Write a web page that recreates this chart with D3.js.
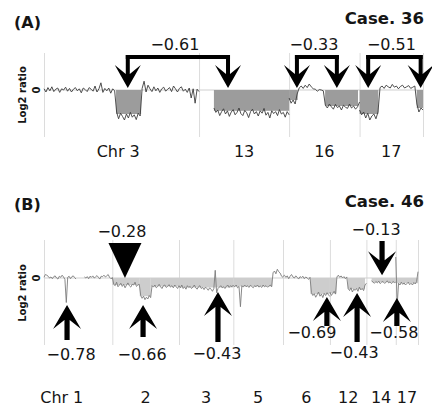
<!DOCTYPE html>
<html>
<head>
<meta charset="utf-8">
<script src="https://cdn.jsdelivr.net/npm/d3@7"></script>
<style>
  body { margin: 0; background: #fff; }
  svg { display: block; }
  text { font-family: "DejaVu Sans", Verdana, sans-serif; fill: #151515; }
</style>
</head>
<body>
<script>

//******************************************************************************
// Data ************************************************************************

    var caseLabels = ["Case. 36", "Case. 46"];

    // ---- panel A : case 36 ----
    var chromA = ["3", "13", "16", "17"];
    var chromLenA = [198, 115, 90, 81]; // Mb
    var probeSpanA = [[0, 198], [19, 115], [0, 90], [0, 81]]; // Mb covered by probes

    var log2A_chr3 = [
       0.03,-0.05, 0.06,-0.02, 0.08,-0.04, 0.02, 0.05,-0.06, 0.03,
       0.00, 0.07,-0.03, 0.04,-0.05, 0.02, 0.06,-0.02, 0.03,-0.07,
       0.05, 0.01,-0.04, 0.06, 0.02,-0.03, 0.10,-0.05, 0.03, 0.18,
      -0.06, 0.04,-0.02, 0.05,-0.08, 0.03,-0.02,
      -0.55,-0.72,-0.58,-0.66,-0.75,-0.60,-0.70,-0.56,-0.68,-0.62,-0.74,-0.58,-0.65,
       0.04, 0.22,-0.05, 0.12, 0.03,-0.04, 0.08,-0.02, 0.05,-0.06,
       0.03, 0.07,-0.03, 0.02, 0.06,-0.04, 0.10, 0.03,-0.05, 0.04,
       0.08,-0.03, 0.02,-0.06, 0.05,-0.20, 0.03,-0.33, 0.02,-0.04
    ];
    var log2A_chr13 = [
      -0.45,-0.56,-0.50,-0.64,-0.54,-0.47,-0.60,-0.52,-0.66,-0.55,
      -0.49,-0.62,-0.56,-0.45,-0.59,-0.64,-0.51,-0.57,-0.69,-0.54,
      -0.48,-0.60,-0.54,-0.65,-0.52,-0.58,-0.46,-0.63,-0.56,-0.70,
      -0.52,-0.59,-0.54,-0.64,-0.49,-0.60,-0.56,-0.68,-0.54,-0.62
    ];
    var log2A_chr16 = [
      -0.20,-0.33,-0.25,-0.35,-0.10, 0.05, 0.10, 0.04, 0.12, 0.06,
       0.15, 0.08, 0.03, 0.02,-0.03, 0.01, 0.00,-0.02,-0.38,-0.45,
      -0.35,-0.42,-0.48,-0.36,-0.44,-0.40,-0.50,-0.38,-0.43,-0.46,
      -0.35,-0.45,-0.40,-0.48,-0.42,-0.30
    ];
    var log2A_chr17 = [
      -0.50,-0.62,-0.55,-0.70,-0.58,-0.75,-0.65,-0.60,-0.72,-0.55,
       0.06, 0.10, 0.04, 0.12, 0.08, 0.05, 0.14, 0.07, 0.10, 0.03,
       0.09, 0.12, 0.05, 0.08, 0.11, 0.04, 0.07, 0.10,-0.35,-0.55,-0.45,-0.50
    ];

    // segments [chr, startMb, endMb, mean log2]
    var segA = [
      ["3", 92, 124, -0.60], ["13", 19, 115, -0.52],
      ["16", 0, 11, -0.25], ["16", 46, 88, -0.40],
      ["17", 0, 24, -0.60], ["17", 73, 81, -0.45]
    ];

    // brackets [label, chrLeft, mbLeft, chrRight, mbRight]
    var bracketA = [
      ["\u22120.61", "3", 107, "13", 37],
      ["\u22120.33", "16", 10, "16", 61],
      ["\u22120.51", "17", 11, "17", 78]
    ];

    // ---- panel B : case 46 ----
    var chromB = ["1", "2", "3", "5", "6", "12", "14", "17"];
    var chromLenB = [249, 243, 198, 181, 171, 133, 107, 81];
    var probeSpanB = [[0, 249], [0, 243], [0, 198], [0, 181], [0, 171], [0, 133], [19, 107], [0, 81]];

    var log2B_chr1 = [
       0.02, 0.10, 0.08, 0.05, 0.00, 0.03,-0.02, 0.04, 0.06, 0.00,
      -0.03, 0.05, 0.02, 0.08, 0.03,-0.04,-0.70, 0.02, 0.05,-0.02,
       0.04, 0.06, 0.01,-0.03, null, null, null, null, null, 0.03,
       0.00, 0.04,-0.02, 0.05, 0.02, 0.06, 0.00, 0.03, 0.07, 0.02,
      -0.03, 0.05, 0.04, 0.08, 0.03, 0.06, 0.10, 0.02,-0.02, 0.00
    ];
    var log2B_chr2 = [
       0.02,-0.18,-0.22,-0.12,-0.25,-0.20,-0.15,-0.24,-0.18,-0.28,
      -0.20,-0.14,-0.22,-0.26,-0.18,-0.20,-0.12,-0.24,-0.20,-0.18,
      -0.50,-0.58,-0.52,-0.62,-0.55,-0.60,-0.50,-0.56,
      -0.22,-0.26,-0.20,-0.28,-0.24,-0.18,-0.25,-0.30,-0.22,-0.20,
      -0.27,-0.24,-0.19,-0.26,-0.22,-0.28,-0.20,-0.25,-0.30,-0.22
    ];
    var log2B_chr3 = [
      -0.22,-0.28,-0.20,-0.30,-0.25,-0.32,-0.22,-0.27,-0.24,-0.30,
      -0.26,-0.20,-0.28,-0.32,-0.25,-0.22,-0.30,-0.27,-0.33,-0.26,
      -0.30,-0.35,-0.28,-0.32,-0.38,-0.30, 0.22,-0.42,-0.30,-0.26,
      -0.22,-0.28,-0.25,-0.30,-0.24,-0.20,-0.27,-0.22,-0.25,-0.20
    ];
    var log2B_chr5 = [
      -0.22,-0.25,-0.20,-0.28,-0.24,-0.82,-0.22,-0.26,-0.20,-0.25,
      -0.22,-0.27,-0.21,-0.24,-0.28,-0.22,-0.25,-0.20,-0.26,-0.23,
      -0.27,-0.20,-0.25,-0.22,-0.26,-0.24,-0.20,-0.25, 0.15, 0.20,
       0.12, 0.25, 0.18, 0.14, 0.05, 0.02
    ];
    var log2B_chr6 = [
       0.04, 0.08, 0.02, 0.06,-0.02, 0.05, 0.10, 0.03, 0.00, 0.06,
       0.02,-0.03, 0.04, 0.01, 0.05,-0.02, 0.03, 0.00,-0.04, 0.02,
      -0.42,-0.50,-0.45,-0.55,-0.48,-0.40,-0.52,-0.46,-0.56,-0.44,
      -0.50,-0.42,-0.48,-0.53
    ];
    var log2B_chr12 = [
      -0.40,-0.50,-0.44,-0.38,-0.46, 0.03, 0.08, 0.02, 0.06, 0.00,
       0.04,-0.02, 0.03,-0.30,-0.36,-0.28,-0.40,-0.32,-0.35,-0.30,
      -0.38,-0.26,-0.34,-0.30,-0.36,-0.20,-0.15
    ];
    var log2B_chr14 = [
      -0.08,-0.12,-0.15,-0.10,-0.14,-0.09,-0.16,-0.12,-0.10,-0.15,
      -0.13,-0.08,-0.14,-0.11,-0.16,-0.10,-0.13,-0.12
    ];
    var log2B_chr17 = [
       0.60,-0.78,-0.15,-0.20,-0.12,-0.18,-0.14,-0.20,-0.16,-0.12,
      -0.19,-0.15,-0.20,-0.13,-0.17,-0.10, 0.18
    ];

    var segB = [
      ["2", 0, 100, -0.20], ["2", 100, 140, -0.52], ["2", 140, 243, -0.24],
      ["3", 0, 198, -0.27], ["5", 0, 142, -0.24], ["6", 100, 171, -0.46],
      ["12", 0, 24, -0.44], ["12", 65, 128, -0.32],
      ["14", 19, 107, -0.12], ["17", 0, 81, -0.15]
    ];

    // arrows [label, chr, Mb, log2 at tip, kind]
    var arrowB = [
      ["\u22120.78", "1", 84, -0.77, "up"],
      ["\u22120.66", "2", 112, -0.77, "up"],
      ["\u22120.43", "3", 142, -0.40, "up"],
      ["\u22120.69", "6", 160, -0.54, "up"],
      ["\u22120.43", "12", 99, -0.43, "up"],
      ["\u22120.58", "17", 4, -0.57, "up"],
      ["\u22120.13", "14", 57, 0.08, "down"],
      ["\u22120.28", "2", 46, 0, "triangle"]
    ];


//******************************************************************************
// Layout **********************************************************************

    var panelA = {
        zeroY: 90, pxPerUnit: 40, x0: 44, x1: 423,
        gridTop: 53, gridBottom: 137,
        fill: "#9c9c9c", trace: "#3c3c3c",
        chrLabelY: 157, firstLabelDx: 13,
        tag: "(A)", tagY: 28, caseY: 24, yLabelY: 95,
        bracketY: 57, labelY: 50
    };

    var panelB = {
        zeroY: 278, pxPerUnit: 35, x0: 44, x1: 418,
        gridTop: 240, gridBottom: 345,
        fill: "#cdcdcd", trace: "#7c7c7c",
        chrLabelY: 403, firstLabelDx: 0,
        tag: "(B)", tagY: 210, caseY: 207, yLabelY: 293
    };

    // [shaft end y, label dx, label baseline] for each arrow of panel B
    var arrowLayoutB = [
      [340, 4, 360], [337, -1, 360], [342, -1, 359], [326, -15, 338],
      [342, -3, 358], [326, -3, 338], [241, -6, 235], [243, -3, 237]
    ];


//******************************************************************************
// Initialization **************************************************************

    var svg = d3.select("body").append("svg")
        .attr("width", 432)
        .attr("height", 409);


//******************************************************************************
// Prog ************************************************************************

    var scA = drawPanel(panelA, caseLabels[0], chromA, chromLenA, probeSpanA,
        [log2A_chr3, log2A_chr13, log2A_chr16, log2A_chr17], segA);
    drawBrackets(panelA, scA);

    var scB = drawPanel(panelB, caseLabels[1], chromB, chromLenB, probeSpanB,
        [log2B_chr1, log2B_chr2, log2B_chr3, log2B_chr5, log2B_chr6, log2B_chr12, log2B_chr14, log2B_chr17], segB);
    drawArrows(panelB, scB);


//******************************************************************************
// Functions *******************************************************************

    function drawPanel(p, caseLabel, chroms, lens, spans, traces, segs){

        var x = d3.scaleLinear().domain([0, d3.sum(lens)]).range([p.x0, p.x1]);
        var y = d3.scaleLinear().domain([-1, 1]).range([p.zeroY + p.pxPerUnit, p.zeroY - p.pxPerUnit]);

        var offset = {};
        var acc = 0;
        chroms.forEach((c, i) => { offset[c] = acc; acc += lens[i]; });
        var pos = (c, mb) => x(offset[c] + mb);

        var g = svg.append("g");

        // chromosome boundaries
        var bounds = chroms.map(c => offset[c]).concat([acc]);
        g.selectAll(".grid").data(bounds).enter().append("line")
          .attr("x1", d => x(d) + 0.5).attr("x2", d => x(d) + 0.5)
          .attr("y1", p.gridTop).attr("y2", p.gridBottom)
          .style("stroke", "#dcdcdc").style("stroke-width", 1);

        // zero line
        g.append("line")
          .attr("x1", x(0)).attr("x2", x(acc))
          .attr("y1", y(0)).attr("y2", y(0))
          .style("stroke", "#cfcfcf").style("stroke-width", 1);

        // segment fills
        g.selectAll(".seg").data(segs).enter().append("rect")
          .attr("x", d => pos(d[0], d[1]))
          .attr("width", d => pos(d[0], d[2]) - pos(d[0], d[1]))
          .attr("y", y(0))
          .attr("height", d => y(d[3]) - y(0))
          .style("fill", p.fill);

        // probe traces
        var line = d3.line()
          .defined(d => d.v != null)
          .x(d => x(d.mb))
          .y(d => y(d.v));

        traces.forEach((vals, i) => {
            var c = chroms[i], s = spans[i];
            var pts = vals.map((v, j) => ({ mb: offset[c] + s[0] + j * (s[1] - s[0]) / (vals.length - 1), v: v }));
            g.append("path").datum(pts)
              .attr("d", line)
              .style("fill", "none")
              .style("stroke", p.trace)
              .style("stroke-width", 0.9)
              .style("stroke-linejoin", "round");
        });

        // chromosome labels
        chroms.forEach((c, i) => {
            var cx = x(offset[c] + lens[i] / 2) + (i == 0 ? p.firstLabelDx : 0);
            g.append("text")
              .attr("x", cx).attr("y", p.chrLabelY)
              .attr("text-anchor", "middle")
              .style("font-size", "16px")
              .text(c);
            if(i == 0){
                g.append("text")
                  .attr("x", cx - 10).attr("y", p.chrLabelY)
                  .attr("text-anchor", "end")
                  .style("font-size", "16px")
                  .text("Chr");
            }
        });

        // y axis text
        g.append("text")
          .attr("transform", "translate(22," + p.yLabelY + ") rotate(-90)")
          .attr("text-anchor", "middle")
          .attr("dominant-baseline", "central")
          .style("font-size", "10px").style("font-weight", "bold")
          .text("Log2 ratio");
        g.append("text")
          .attr("transform", "translate(36," + y(0) + ") rotate(-90)")
          .attr("text-anchor", "middle")
          .attr("dominant-baseline", "central")
          .style("font-size", "10px").style("font-weight", "bold")
          .text("0");

        // titles
        g.append("text")
          .attr("x", 14).attr("y", p.tagY)
          .style("font-size", "16px").style("font-weight", "bold")
          .text(p.tag);
        g.append("text")
          .attr("x", 424).attr("y", p.caseY)
          .attr("text-anchor", "end")
          .style("font-size", "16.5px").style("font-weight", "bold")
          .text(caseLabel);

        return { x: x, y: y, pos: pos };
    }



    function arrowD(x, tip, dir, tail, hw, hh, notch, sw){ // dir 1 = points down, -1 = points up
        var s = -dir;
        var pts = [[0, 0], [-hw, s * hh], [-sw, s * notch], [-sw, tail - tip],
                   [sw, tail - tip], [sw, s * notch], [hw, s * hh]];
        return "M" + pts.map(q => (x + q[0]) + "," + (tip + q[1])).join("L") + "Z";
    }



    function drawBrackets(p, sc){

        var g = svg.append("g");
        var tip = sc.y(0) - 2;

        bracketA.forEach(b => {
            var xl = sc.pos(b[1], b[2]), xr = sc.pos(b[3], b[4]);

            g.append("rect") // horizontal bar
              .attr("x", xl - 2).attr("y", p.bracketY - 2)
              .attr("width", xr - xl + 4).attr("height", 4)
              .style("fill", "#000");

            [xl, xr].forEach(xx => {
                g.append("path")
                  .attr("d", arrowD(xx, tip, 1, p.bracketY - 2, 13, 23, 14, 2))
                  .style("fill", "#000");
            });

            g.append("text")
              .attr("x", (xl + xr) / 2 - 3).attr("y", p.labelY)
              .attr("text-anchor", "middle")
              .style("font-size", "16px")
              .text(b[0]);
        });
    }



    function drawArrows(p, sc){

        var g = svg.append("g");

        arrowB.forEach((a, i) => {
            var lay = arrowLayoutB[i];
            var xx = sc.pos(a[1], a[2]);
            var tip = sc.y(a[3]);

            if(a[4] == "triangle"){
                g.append("path")
                  .attr("d", "M" + (xx - 16.5) + "," + lay[0] + "L" + (xx + 16.5) + "," + lay[0] + "L" + xx + "," + tip + "Z")
                  .style("fill", "#000");
            } else {
                var dir = a[4] == "down" ? 1 : -1;
                g.append("path")
                  .attr("d", arrowD(xx, tip, dir, lay[0], 14, 24, 15, 2.6))
                  .style("fill", "#000");
            }

            g.append("text")
              .attr("x", xx + lay[1]).attr("y", lay[2])
              .attr("text-anchor", "middle")
              .style("font-size", "16px")
              .text(a[0]);
        });
    }

</script>
</body>
</html>
